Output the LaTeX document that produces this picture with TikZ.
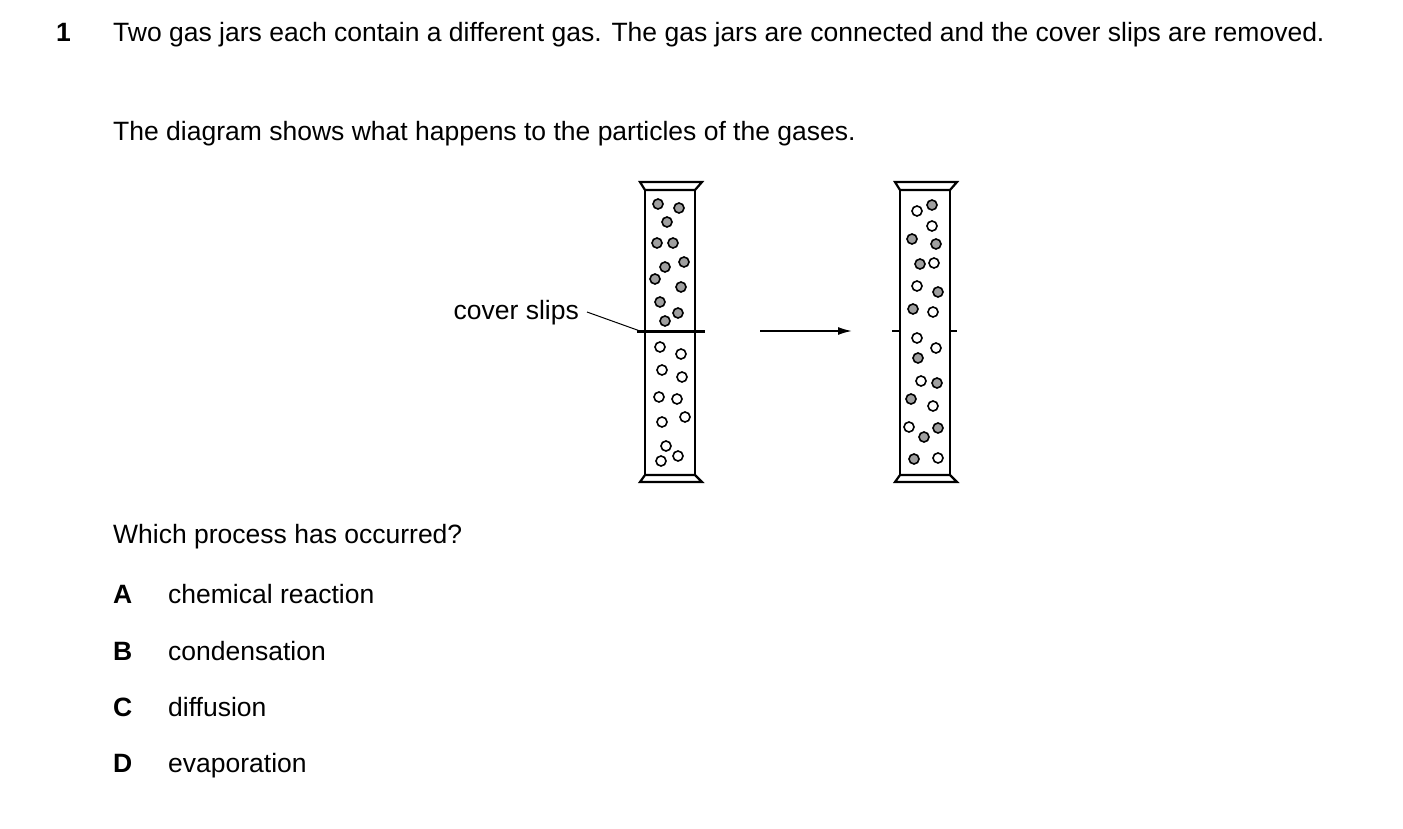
\documentclass[tikz,border=0pt]{standalone}
\usepackage{fontspec}
\setmainfont{Liberation Sans}
\usetikzlibrary{arrows.meta}
\begin{document}
\begin{tikzpicture}[x=1pt,y=-1pt,
  txt/.style={anchor=base west,inner sep=0pt,font=\fontsize{26.5}{33}\selectfont},
  lbl/.style={txt,font=\fontsize{26.5}{33}\selectfont\bfseries},
  wall/.style={line width=2.2pt},
  g/.style={circle,draw,line width=1.6pt,fill=gray!75,minimum size=10pt,inner sep=0pt},
  w/.style={circle,draw,line width=1.6pt,fill=white,minimum size=10pt,inner sep=0pt}]
\useasboundingbox (0,0) rectangle (1403,829);
\node[lbl] (n1) at (56,42) {1};
\node[txt,text width=1234pt,align=justify] (q) at (113,42) {Two gas jars each contain a different gas. The gas jars are connected and the cover slips are removed.};
\node[txt] (d) at (113,141) {The diagram shows what happens to the particles of the gases.};
\node[txt] (w) at (113,543) {Which process has occurred?};
\foreach \l/\t/\y in {A/chemical reaction/603,B/condensation/660,C/diffusion/716,D/evaporation/772}{
  \node[lbl] (L\l) at (113,\y) {\l};
  \node[txt] (T\l) at (168,\y) {\t};}
% jars
\foreach \x in {645,900}{
  \draw[wall] (\x,190) -- (\x,475);
  \draw[wall] (\x+50,190) -- (\x+50,475);
  \draw[wall] (\x-5,182) -- (\x+57,182) -- (\x+50,190) -- (\x,190) -- cycle;
  \draw[wall] (\x,475) -- (\x+50,475) -- (\x+57,482) -- (\x-5,482) -- cycle;
}
\draw[line width=3pt] (637,331) -- (705,331);
\draw[line width=1.6pt] (892,331) -- (900,331) (950,331) -- (957,331);
\node[txt,anchor=base east] (cs) at (579,319) {cover slips};
\coordinate (cse) at (640,331);
\draw[line width=1pt] (587,312) -- (cse);
\coordinate (a1) at (760,331); \coordinate (a2) at (852,331);
\draw[line width=1.6pt,-{Latex[length=14pt,width=8pt]}] (a1) -- (a2);
\foreach \p in {(658,204),(679,208),(667,222),(657,243),(673,243),(684,262),(665,267),(655,279),(681,287),(660,302),(678,313),(665,321),
 (932,205),(912,239),(936,244),(920,264),(938,292),(913,309),(918,358),(937,383),(911,399),(924,437),(938,428),(914,459)}
  \node[g] at \p {};
\foreach \p in {(660,347),(681,354),(662,370),(682,377),(659,397),(677,399),(685,417),(662,422),(666,446),(661,461),(678,456),
 (917,211),(932,226),(934,263),(917,286),(933,312),(917,338),(936,348),(921,381),(933,406),(909,427),(938,458)}
  \node[w] at \p {};
\end{tikzpicture}
\end{document}
